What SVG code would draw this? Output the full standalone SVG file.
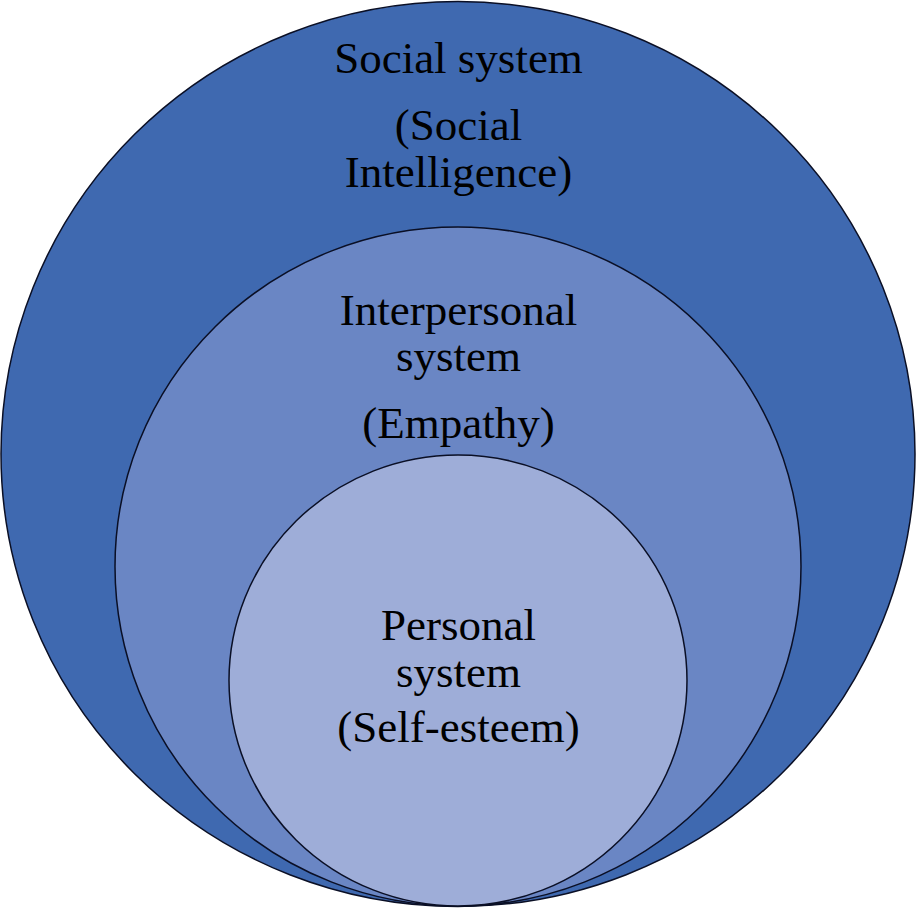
<svg xmlns="http://www.w3.org/2000/svg" width="917" height="909" viewBox="0 0 917 909">
<style>
.c{stroke:#0a0f25;stroke-width:1.5}
.t{font-family:"Liberation Serif","Times New Roman",serif;font-size:45px;fill:#000;text-anchor:middle}
</style>
<rect width="917" height="909" fill="#fff"/>
<g id="social">
<ellipse class="c" cx="458" cy="454" rx="457" ry="452.5" fill="#3F69B0"/>
<text class="t" x="458.5" y="73">Social system</text>
<text class="t" x="458.5" y="140">(Social</text>
<text class="t" x="458.5" y="187">Intelligence)</text>
</g>
<g id="interpersonal">
<ellipse class="c" cx="458" cy="566.5" rx="343" ry="339.5" fill="#6A86C4"/>
<text class="t" x="458.5" y="325">Interpersonal</text>
<text class="t" x="458.5" y="371">system</text>
<text class="t" x="458.5" y="438">(Empathy)</text>
</g>
<g id="personal">
<ellipse class="c" cx="458" cy="680.5" rx="229" ry="225.5" fill="#9EADD8"/>
<text class="t" x="458.5" y="640">Personal</text>
<text class="t" x="458.5" y="687">system</text>
<text class="t" x="458.5" y="742">(Self-esteem)</text>
</g>
<g id="connectors"/>
</svg>
